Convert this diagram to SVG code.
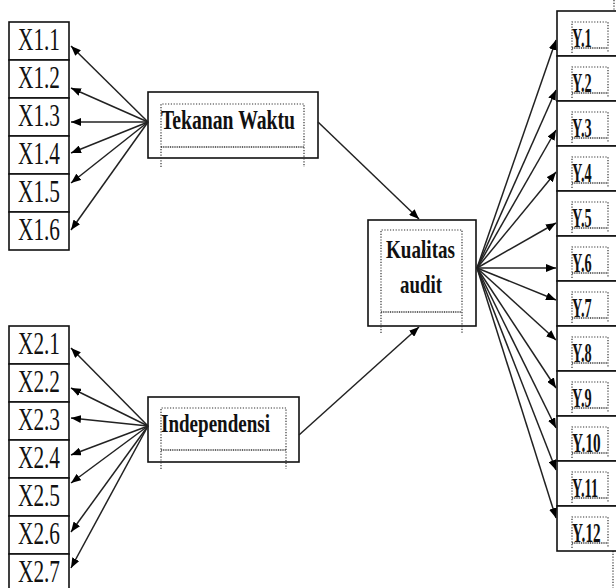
<svg xmlns="http://www.w3.org/2000/svg" width="616" height="588" viewBox="0 0 616 588">
<style>
.box{fill:#fff;stroke:#111;stroke-width:1.6}
.dot{fill:none;stroke:#333;stroke-width:1.2;stroke-dasharray:1.2 1.6}
.dense{fill:none;stroke:#333;stroke-width:1.6;stroke-dasharray:1 0.8}
.xt{font-family:"Liberation Serif",serif;font-size:32px;fill:#111}
.bt{font-family:"Liberation Serif",serif;font-weight:bold;fill:#111}
.yt{font-family:"Liberation Serif",serif;font-weight:bold;font-size:28px;fill:#111}
.con{stroke:#222;stroke-width:1.5;fill:none;marker-end:url(#ah)}
</style>
<defs>
<marker id="ah" viewBox="0 0 10 8" refX="10" refY="4" markerWidth="10" markerHeight="8" markerUnits="userSpaceOnUse" orient="auto">
<path d="M0,0 L10,4 L0,8 z" fill="#000"/>
</marker>
</defs>
<rect width="616" height="588" fill="#fff"/>

<g id="x1">
<rect class="box" x="9" y="22" width="60" height="38"/><text class="xt" x="18" y="50" textLength="42" lengthAdjust="spacingAndGlyphs">X1.1</text>
<rect class="box" x="9" y="60" width="60" height="38"/><text class="xt" x="18" y="88" textLength="42" lengthAdjust="spacingAndGlyphs">X1.2</text>
<rect class="box" x="9" y="98" width="60" height="38"/><text class="xt" x="18" y="126" textLength="42" lengthAdjust="spacingAndGlyphs">X1.3</text>
<rect class="box" x="9" y="136" width="60" height="38"/><text class="xt" x="18" y="164" textLength="42" lengthAdjust="spacingAndGlyphs">X1.4</text>
<rect class="box" x="9" y="174" width="60" height="38"/><text class="xt" x="18" y="202" textLength="42" lengthAdjust="spacingAndGlyphs">X1.5</text>
<rect class="box" x="9" y="212" width="60" height="38"/><text class="xt" x="18" y="240" textLength="42" lengthAdjust="spacingAndGlyphs">X1.6</text>
</g>

<g id="x2">
<rect class="box" x="9" y="326" width="60" height="38"/><text class="xt" x="18" y="354" textLength="42" lengthAdjust="spacingAndGlyphs">X2.1</text>
<rect class="box" x="9" y="364" width="60" height="38"/><text class="xt" x="18" y="392" textLength="42" lengthAdjust="spacingAndGlyphs">X2.2</text>
<rect class="box" x="9" y="402" width="60" height="38"/><text class="xt" x="18" y="430" textLength="42" lengthAdjust="spacingAndGlyphs">X2.3</text>
<rect class="box" x="9" y="440" width="60" height="38"/><text class="xt" x="18" y="468" textLength="42" lengthAdjust="spacingAndGlyphs">X2.4</text>
<rect class="box" x="9" y="478" width="60" height="38"/><text class="xt" x="18" y="506" textLength="42" lengthAdjust="spacingAndGlyphs">X2.5</text>
<rect class="box" x="9" y="516" width="60" height="38"/><text class="xt" x="18" y="544" textLength="42" lengthAdjust="spacingAndGlyphs">X2.6</text>
<rect class="box" x="9" y="554" width="60" height="38"/><text class="xt" x="18" y="582" textLength="42" lengthAdjust="spacingAndGlyphs">X2.7</text>
</g>

<g id="tekanan">
<rect class="box" x="148" y="92" width="170" height="66"/>
<path class="dot" d="M161,167 V104 H304 V167"/>
<path class="dense" d="M161,147 H304"/>
<text class="bt" x="161" y="129" font-size="28" textLength="134" lengthAdjust="spacingAndGlyphs">Tekanan Waktu</text>
</g>

<g id="independensi">
<rect class="box" x="148" y="397" width="151" height="65"/>
<path class="dot" d="M161,469 V408 H286 V469"/>
<path class="dense" d="M161,450 H286"/>
<text class="bt" x="161" y="432" font-size="26" textLength="109" lengthAdjust="spacingAndGlyphs">Independensi</text>
</g>

<g id="kualitas">
<rect class="box" x="368" y="220" width="108" height="106"/>
<path class="dot" d="M381,333 V230 H462 V333"/>
<path class="dense" d="M381,312 H462"/>
<text class="bt" x="386" y="258" font-size="26" textLength="69" lengthAdjust="spacingAndGlyphs">Kualitas</text>
<text class="bt" x="400" y="293" font-size="26" textLength="42" lengthAdjust="spacingAndGlyphs">audit</text>
</g>

<g id="y">
<path class="dot" d="M614,0 V10"/>
<path class="dot" d="M613,551 V588"/>
<rect class="box" x="557" y="11" width="80" height="45"/>
<rect class="box" x="557" y="56" width="80" height="45"/>
<rect class="box" x="557" y="101" width="80" height="45"/>
<rect class="box" x="557" y="146" width="80" height="45"/>
<rect class="box" x="557" y="191" width="80" height="45"/>
<rect class="box" x="557" y="236" width="80" height="45"/>
<rect class="box" x="557" y="281" width="80" height="45"/>
<rect class="box" x="557" y="326" width="80" height="45"/>
<rect class="box" x="557" y="371" width="80" height="45"/>
<rect class="box" x="557" y="416" width="80" height="45"/>
<rect class="box" x="557" y="461" width="80" height="45"/>
<rect class="box" x="557" y="506" width="80" height="45"/>
<g id="y1"><path class="dot" d="M572,53 V22 H608 V53"/><path class="dense" d="M572,48 H608"/><text class="yt" transform="translate(572,47) scale(0.51,1)">Y.1</text></g>
<g id="y2"><path class="dot" d="M572,98 V67 H608 V98"/><path class="dense" d="M572,93 H608"/><text class="yt" transform="translate(572,92) scale(0.51,1)">Y.2</text></g>
<g id="y3"><path class="dot" d="M572,143 V112 H608 V143"/><path class="dense" d="M572,138 H608"/><text class="yt" transform="translate(572,137) scale(0.51,1)">Y.3</text></g>
<g id="y4"><path class="dot" d="M572,188 V157 H608 V188"/><path class="dense" d="M572,183 H608"/><text class="yt" transform="translate(572,182) scale(0.51,1)">Y.4</text></g>
<g id="y5"><path class="dot" d="M572,233 V202 H608 V233"/><path class="dense" d="M572,228 H608"/><text class="yt" transform="translate(572,227) scale(0.51,1)">Y.5</text></g>
<g id="y6"><path class="dot" d="M572,278 V247 H608 V278"/><path class="dense" d="M572,273 H608"/><text class="yt" transform="translate(572,272) scale(0.51,1)">Y.6</text></g>
<g id="y7"><path class="dot" d="M572,323 V292 H608 V323"/><path class="dense" d="M572,318 H608"/><text class="yt" transform="translate(572,317) scale(0.51,1)">Y.7</text></g>
<g id="y8"><path class="dot" d="M572,368 V337 H608 V368"/><path class="dense" d="M572,363 H608"/><text class="yt" transform="translate(572,362) scale(0.51,1)">Y.8</text></g>
<g id="y9"><path class="dot" d="M572,413 V382 H608 V413"/><path class="dense" d="M572,408 H608"/><text class="yt" transform="translate(572,407) scale(0.51,1)">Y.9</text></g>
<g id="y10"><path class="dot" d="M572,458 V427 H608 V458"/><path class="dense" d="M572,453 H608"/><text class="yt" transform="translate(572,452) scale(0.545,1)">Y.10</text></g>
<g id="y11"><path class="dot" d="M572,503 V472 H608 V503"/><path class="dense" d="M572,498 H608"/><text class="yt" transform="translate(572,497) scale(0.51,1)">Y.11</text></g>
<g id="y12"><path class="dot" d="M572,548 V517 H608 V548"/><path class="dense" d="M572,543 H608"/><text class="yt" transform="translate(572,542) scale(0.545,1)">Y.12</text></g>
</g>

<g id="connectors">
<line class="con" x1="148" y1="122" x2="71" y2="46"/>
<line class="con" x1="148" y1="122" x2="71" y2="88"/>
<line class="con" x1="148" y1="122" x2="71" y2="122"/>
<line class="con" x1="148" y1="122" x2="71" y2="153"/>
<line class="con" x1="148" y1="122" x2="71" y2="183"/>
<line class="con" x1="148" y1="122" x2="71" y2="230"/>
<line class="con" x1="148" y1="426" x2="71" y2="348"/>
<line class="con" x1="148" y1="426" x2="71" y2="388"/>
<line class="con" x1="148" y1="426" x2="71" y2="418"/>
<line class="con" x1="148" y1="426" x2="71" y2="455"/>
<line class="con" x1="148" y1="426" x2="71" y2="483"/>
<line class="con" x1="148" y1="426" x2="71" y2="532"/>
<line class="con" x1="148" y1="426" x2="71" y2="568"/>
<line class="con" x1="318" y1="122" x2="419" y2="219"/>
<line class="con" x1="299" y1="435" x2="419" y2="327"/>
<line class="con" x1="477" y1="268" x2="556" y2="40"/>
<line class="con" x1="477" y1="268" x2="556" y2="90"/>
<line class="con" x1="477" y1="268" x2="556" y2="130"/>
<line class="con" x1="477" y1="268" x2="556" y2="172"/>
<line class="con" x1="477" y1="268" x2="556" y2="223"/>
<line class="con" x1="477" y1="268" x2="556" y2="268"/>
<line class="con" x1="477" y1="268" x2="556" y2="300"/>
<line class="con" x1="477" y1="268" x2="556" y2="340"/>
<line class="con" x1="477" y1="268" x2="556" y2="388"/>
<line class="con" x1="477" y1="268" x2="556" y2="428"/>
<line class="con" x1="477" y1="268" x2="556" y2="470"/>
<line class="con" x1="477" y1="268" x2="556" y2="518"/>
</g>
</svg>
